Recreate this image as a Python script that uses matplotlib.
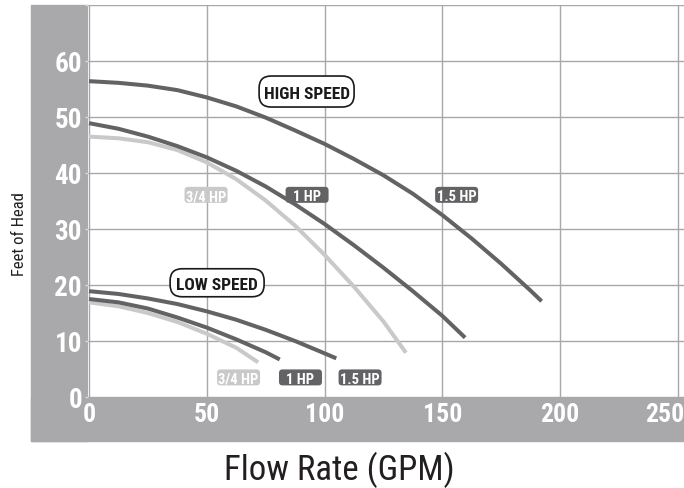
import matplotlib
matplotlib.use("Agg")
import matplotlib.pyplot as plt
from matplotlib.patches import Rectangle, FancyBboxPatch
from matplotlib import transforms
from matplotlib import font_manager as fm

# ---------------- data ----------------
x_ticks = [0, 50, 100, 150, 200, 250]
y_ticks = [0, 10, 20, 30, 40, 50, 60, 70]
y_tick_labels = ["0", "10", "20", "30", "40", "50", "60", ""]

# High speed curves (GPM, feet of head)
hi_15_x = [0, 12.5, 25, 37.5, 50, 62.5, 75, 87.5, 100, 112.5, 125, 137.5, 150, 162.5, 175, 187.5, 192.2]
hi_15_y = [56.4, 56.1, 55.6, 54.8, 53.5, 51.9, 49.9, 47.6, 45.2, 42.5, 39.6, 36.3, 32.5, 28.3, 23.8, 19.0, 17.1]
hi_1_x = [0, 12.5, 25, 37.5, 50, 62.5, 75, 87.5, 100, 112.5, 125, 137.5, 150, 159.7]
hi_1_y = [48.9, 47.9, 46.5, 44.8, 42.8, 40.4, 37.6, 34.4, 30.9, 27.1, 23.1, 18.9, 14.5, 10.6]
hi_34_x = [0, 12.5, 25, 37.5, 50, 62.5, 75, 87.5, 100, 112.5, 125, 134.6]
hi_34_y = [46.5, 46.2, 45.5, 44.1, 41.9, 38.9, 35.1, 30.6, 25.4, 19.7, 13.5, 7.9]

# Low speed curves
lo_15_x = [0, 12.5, 25, 37.5, 50, 62.5, 75, 87.5, 100, 105]
lo_15_y = [18.9, 18.4, 17.6, 16.6, 15.3, 13.8, 12.0, 10.0, 7.8, 6.9]
lo_1_x = [0, 12.5, 25, 37.5, 50, 62.5, 75, 81]
lo_1_y = [17.5, 16.9, 15.8, 14.2, 12.4, 10.3, 8.0, 6.7]
lo_34_x = [0, 12.5, 25, 37.5, 50, 62.5, 71.8]
lo_34_y = [16.9, 16.2, 15.0, 13.4, 11.3, 8.8, 6.2]

# label texts and anchor positions (data units)
hp_labels = ["3/4 HP", "1 HP", "1.5 HP", "3/4 HP", "1 HP", "1.5 HP"]
hp_label_x = [49.7, 92.6, 156.1, 63.5, 89.8, 115.1]
hp_label_y = [36.1, 36.1, 36.1, 3.5, 3.5, 3.5]
hp_label_dark = [False, True, True, False, True, True]
speed_labels = ["HIGH SPEED", "LOW SPEED"]
speed_label_x = [92.4, 54.4]
speed_label_y = [54.55, 20.4]

# ---------------- fonts ----------------
names = {f.name for f in fm.fontManager.ttflist}
FAMILY = None
STRETCH = "normal"
for cand in ["Liberation Sans Narrow", "Roboto Condensed", "Open Sans Condensed",
             "Noto Sans Condensed", "DejaVu Sans Condensed", "Arial Narrow"]:
    if cand in names:
        FAMILY = cand
        break
if FAMILY is None:
    cond = [f for f in fm.fontManager.ttflist
            if str(f.stretch) in ("condensed", "semi-condensed", "extra-condensed")]
    pref = [f for f in cond if f.name in ("DejaVu Sans", "Noto Sans", "Roboto", "Open Sans", "Liberation Sans")]
    pick = pref[0] if pref else (cond[0] if cond else None)
    if pick is not None:
        FAMILY = pick.name
        STRETCH = "condensed"
if FAMILY is None:
    FAMILY = "DejaVu Sans"
    STRETCH = "condensed"
plt.rcParams["font.family"] = [FAMILY, "DejaVu Sans"]
plt.rcParams["font.stretch"] = STRETCH

# ---------------- style ----------------
DARK = "#636366"
LIGHT = "#c9c9c9"
BAND = "#a9a9ab"
GRID = "#a8a8a8"

W, H = 684, 489
fig = plt.figure(figsize=(W / 100, H / 100), dpi=100)

def fx(px):
    return px / W

def fy(py):
    return 1 - py / H

# gray bands
fig.patches.append(Rectangle((fx(31), fy(442)), fx(88) - fx(31), fy(6) - fy(442),
                             transform=fig.transFigure, color=BAND, zorder=-1))
fig.patches.append(Rectangle((fx(31), fy(442)), fx(684) - fx(31), fy(398) - fy(442),
                             transform=fig.transFigure, color=BAND, zorder=-1))

X0, XS = 89.0, 2.355  # pixel of 0 GPM, pixels per GPM
ax = fig.add_axes([fx(88), fy(398), fx(684) - fx(88), fy(6) - fy(398)])
ax.set_xlim((88 - X0) / XS, (684 - X0) / XS)
ax.set_ylim(0, 70)
for s in ax.spines.values():
    s.set_visible(False)

ax.set_xticks(x_ticks)
ax.set_xticklabels([str(v) for v in x_ticks])
ax.set_yticks(y_ticks)
ax.set_yticklabels(y_tick_labels)
ax.grid(True, color=GRID, linewidth=1.0, zorder=0)
ax.set_axisbelow(True)
ax.tick_params(axis="y", length=2.2, width=1, color="#d8d8d8", pad=2.2,
               labelcolor="white", labelsize=19.5)
ax.tick_params(axis="x", length=0, pad=3.5, labelcolor="white", labelsize=18.5)
for lbl in ax.get_xticklabels() + ax.get_yticklabels():
    lbl.set_fontweight("bold")
last = ax.get_xticklabels()[-1]
last.set_transform(last.get_transform() + transforms.ScaledTranslation(-0.125, 0, fig.dpi_scale_trans))

lw = 2.9
for xs, ys, c in [(hi_34_x, hi_34_y, LIGHT), (hi_1_x, hi_1_y, DARK), (hi_15_x, hi_15_y, DARK),
                  (lo_34_x, lo_34_y, LIGHT), (lo_1_x, lo_1_y, DARK), (lo_15_x, lo_15_y, DARK)]:
    ax.plot(xs, ys, color=c, lw=lw, solid_capstyle="butt", solid_joinstyle="round", zorder=3)

def box_at(xd, yd, w_px, h_px, r_px, fc, ec, lw_box):
    trans = fig.dpi_scale_trans + transforms.ScaledTranslation(xd, yd, ax.transData)
    p = FancyBboxPatch((-w_px / 200, -h_px / 200), w_px / 100, h_px / 100,
                       boxstyle=f"round,pad=0,rounding_size={r_px / 100}",
                       transform=trans, fc=fc, ec=ec, lw=lw_box, zorder=4, clip_on=False)
    ax.add_patch(p)

for t, xd, yd, dark in zip(hp_labels, hp_label_x, hp_label_y, hp_label_dark):
    box_at(xd, yd, 43, 16, 3.5, DARK if dark else LIGHT, "none", 0)
    ax.text(xd, yd, t, ha="center", va="center_baseline", color="white",
            fontsize=10.5, fontweight="bold", zorder=5)

for t, xd, yd, wb, hb in zip(speed_labels, speed_label_x, speed_label_y, [95, 94], [31, 28]):
    box_at(xd, yd, wb, hb, 12, "white", "#1a1a1a", 1.2)
    ax.text(xd, yd, t, ha="center", va="center_baseline", color="#1a1a1a",
            fontsize=12.5, fontweight="bold", zorder=5)

fig.text(fx(339), fy(479.5), "Flow Rate (GPM)", ha="center", va="baseline",
         fontsize=25, color="#231f20")
fig.text(fx(20), fy(234), "Feet of Head", ha="center", va="center", rotation=90,
         fontsize=12, color="#231f20")

fig.savefig("out.png", dpi=100)
